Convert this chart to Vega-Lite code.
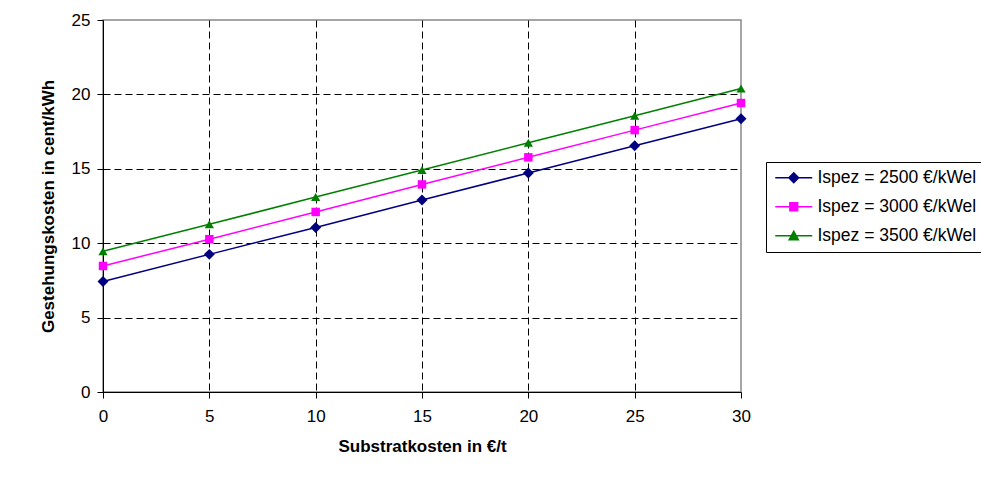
{
  "$schema": "https://vega.github.io/schema/vega-lite/v6.json",
  "width": 638,
  "height": 372,
  "autosize": "none",
  "padding": {"left": 103, "top": 20, "right": 240, "bottom": 104},
  "background": "white",
  "config": {
    "font": "Liberation Sans",
    "view": {"stroke": "#888888", "strokeWidth": 1.5},
    "axis": {
      "domainColor": "black",
      "domainWidth": 1,
      "tickColor": "black",
      "tickSize": 6,
      "labelFlush": false,
      "labelColor": "black",
      "labelFont": "Liberation Sans",
      "labelFontSize": 17,
      "titleFont": "Liberation Sans",
      "titleFontSize": 17,
      "titleFontWeight": "bold",
      "titleColor": "black",
      "gridColor": "black",
      "gridDash": [7, 4],
      "gridWidth": 1
    }
  },
  "data": {
    "values": [
      {"x": 0, "y": 7.42, "series": "Ispez = 2500 €/kWel"},
      {"x": 5, "y": 9.25, "series": "Ispez = 2500 €/kWel"},
      {"x": 10, "y": 11.06, "series": "Ispez = 2500 €/kWel"},
      {"x": 15, "y": 12.9, "series": "Ispez = 2500 €/kWel"},
      {"x": 20, "y": 14.72, "series": "Ispez = 2500 €/kWel"},
      {"x": 25, "y": 16.55, "series": "Ispez = 2500 €/kWel"},
      {"x": 30, "y": 18.37, "series": "Ispez = 2500 €/kWel"},
      {"x": 0, "y": 8.47, "series": "Ispez = 3000 €/kWel"},
      {"x": 5, "y": 10.27, "series": "Ispez = 3000 €/kWel"},
      {"x": 10, "y": 12.1, "series": "Ispez = 3000 €/kWel"},
      {"x": 15, "y": 13.95, "series": "Ispez = 3000 €/kWel"},
      {"x": 20, "y": 15.77, "series": "Ispez = 3000 €/kWel"},
      {"x": 25, "y": 17.6, "series": "Ispez = 3000 €/kWel"},
      {"x": 30, "y": 19.42, "series": "Ispez = 3000 €/kWel"},
      {"x": 0, "y": 9.46, "series": "Ispez = 3500 €/kWel"},
      {"x": 5, "y": 11.27, "series": "Ispez = 3500 €/kWel"},
      {"x": 10, "y": 13.1, "series": "Ispez = 3500 €/kWel"},
      {"x": 15, "y": 14.92, "series": "Ispez = 3500 €/kWel"},
      {"x": 20, "y": 16.75, "series": "Ispez = 3500 €/kWel"},
      {"x": 25, "y": 18.57, "series": "Ispez = 3500 €/kWel"},
      {"x": 30, "y": 20.4, "series": "Ispez = 3500 €/kWel"}
    ]
  },
  "encoding": {
    "x": {
      "field": "x",
      "type": "quantitative",
      "scale": {"domain": [0, 30], "nice": false},
      "axis": {
        "values": [0, 5, 10, 15, 20, 25, 30],
        "title": "Substratkosten in €/t",
        "labelPadding": 10,
        "titlePadding": 14,
        "gridOpacity": {"condition": {"test": "datum.value == 0 || datum.value == 30", "value": 0}, "value": 1}
      }
    },
    "y": {
      "field": "y",
      "type": "quantitative",
      "scale": {"domain": [0, 25], "nice": false},
      "axis": {
        "values": [0, 5, 10, 15, 20, 25],
        "title": "Gestehungskosten in cent/kWh",
        "labelPadding": 7,
        "titlePadding": 14,
        "gridOpacity": {"condition": {"test": "datum.value == 0 || datum.value == 25", "value": 0}, "value": 1}
      }
    },
    "color": {
      "field": "series",
      "type": "nominal",
      "scale": {
        "domain": ["Ispez = 2500 €/kWel", "Ispez = 3000 €/kWel", "Ispez = 3500 €/kWel"],
        "range": ["#000080", "#FF00FF", "#008000"]
      },
      "legend": {
        "title": null,
        "orient": "none",
        "legendX": 663,
        "legendY": 142,
        "padding": 7,
        "strokeColor": "black",
        "fillColor": "white",
        "labelFont": "Liberation Sans",
        "labelFontSize": 17.5,
        "labelColor": "black",
        "symbolType": "M-3.7,0H3.7",
        "symbolSize": 100,
        "symbolOffset": 12,
        "labelOffset": 15,
        "rowPadding": 10,
        "encode": {
          "symbols": {
            "update": {
              "shape": {"signal": "datum.index == 0 ? 'M-3.7,0H3.7M0,-1L1,0L0,1L-1,0Z' : (datum.index == 1 ? 'M-3.7,0H3.7M-0.8,-0.8H0.8V0.8H-0.8Z' : 'M-3.7,0H3.7M0,-0.95L0.95,0.8H-0.95Z')"},
              "fill": {"signal": "scale('color', datum.value)"},
              "stroke": {"signal": "scale('color', datum.value)"},
              "strokeWidth": {"value": 1.3},
              "opacity": {"value": 1}
            }
          }
        }
      }
    }
  },
  "layer": [
    {
      "mark": {"type": "line", "strokeWidth": 1.5}
    },
    {
      "transform": [{"filter": {"field": "series", "equal": "Ispez = 2500 €/kWel"}}],
      "mark": {"type": "point", "shape": "diamond", "filled": true, "opacity": 1, "size": 120}
    },
    {
      "transform": [{"filter": {"field": "series", "equal": "Ispez = 3000 €/kWel"}}],
      "mark": {"type": "point", "shape": "square", "filled": true, "opacity": 1, "size": 72}
    },
    {
      "transform": [{"filter": {"field": "series", "equal": "Ispez = 3500 €/kWel"}}],
      "mark": {"type": "point", "shape": "triangle-up", "filled": true, "opacity": 1, "size": 85}
    }
  ]
}
